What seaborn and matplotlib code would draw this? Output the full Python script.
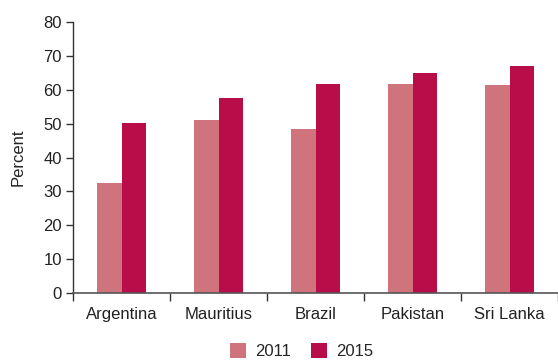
import matplotlib
matplotlib.use('Agg')
import matplotlib.pyplot as plt
import seaborn as sns
import pandas as pd
import numpy as np

countries = ['Argentina', 'Mauritius', 'Brazil', 'Pakistan', 'Sri Lanka']
years = ['2011', '2015']
vals_2011 = [32.5, 51.0, 48.4, 61.7, 61.4]
vals_2015 = [50.2, 57.5, 61.7, 64.9, 67.0]
colors = {'2011': '#CF737C', '2015': '#B80D48'}

df = pd.DataFrame({
    'country': countries * 2,
    'year': ['2011'] * len(countries) + ['2015'] * len(countries),
    'value': vals_2011 + vals_2015,
})

sns.set_style('white')
plt.rcParams['font.family'] = ['Liberation Sans', 'DejaVu Sans']

fig = plt.figure(figsize=(5.58, 3.6), dpi=100)
ax = fig.add_axes([0.131, 0.186, 0.869, 0.753])
sns.barplot(data=df, x='country', y='value', hue='year', hue_order=years,
            palette=colors, width=0.51, saturation=1, linewidth=0,
            edgecolor='none', ax=ax, legend=True)

ax.set_xlim(-0.5, 4.5)
ax.set_ylim(0, 80)
ax.set_yticks(np.arange(0, 81, 10))
ax.set_xlabel('')
ax.set_ylabel('Percent', fontsize=12, color='#222222')
ax.yaxis.set_label_coords(-0.097, 0.5)
ax.tick_params(axis='y', length=5, width=1, color='#333333', labelsize=12,
               labelcolor='#222222', left=True, direction='out', pad=3)
ax.tick_params(axis='x', which='major', length=0, labelsize=12, labelcolor='#222222', pad=10)
ax.set_xticks(np.arange(-0.5, 5, 1), minor=True)
ax.tick_params(axis='x', which='minor', length=6, width=1, color='#333333', bottom=True, direction='out')

for s in ['top', 'right']:
    ax.spines[s].set_visible(False)
ax.spines['left'].set_color('#333333')
ax.spines['bottom'].set_color('#555555')
ax.spines['left'].set_linewidth(1)
ax.spines['bottom'].set_linewidth(1.2)

handles, labels = ax.get_legend_handles_labels()
ax.get_legend().remove()
fig.legend(handles, labels, loc='center', bbox_to_anchor=(0.54, 0.025),
           ncol=2, frameon=False, fontsize=12, handlelength=1.0, handleheight=1.0,
           columnspacing=1.2, handletextpad=0.5)

fig.savefig('out.png', dpi=100)
